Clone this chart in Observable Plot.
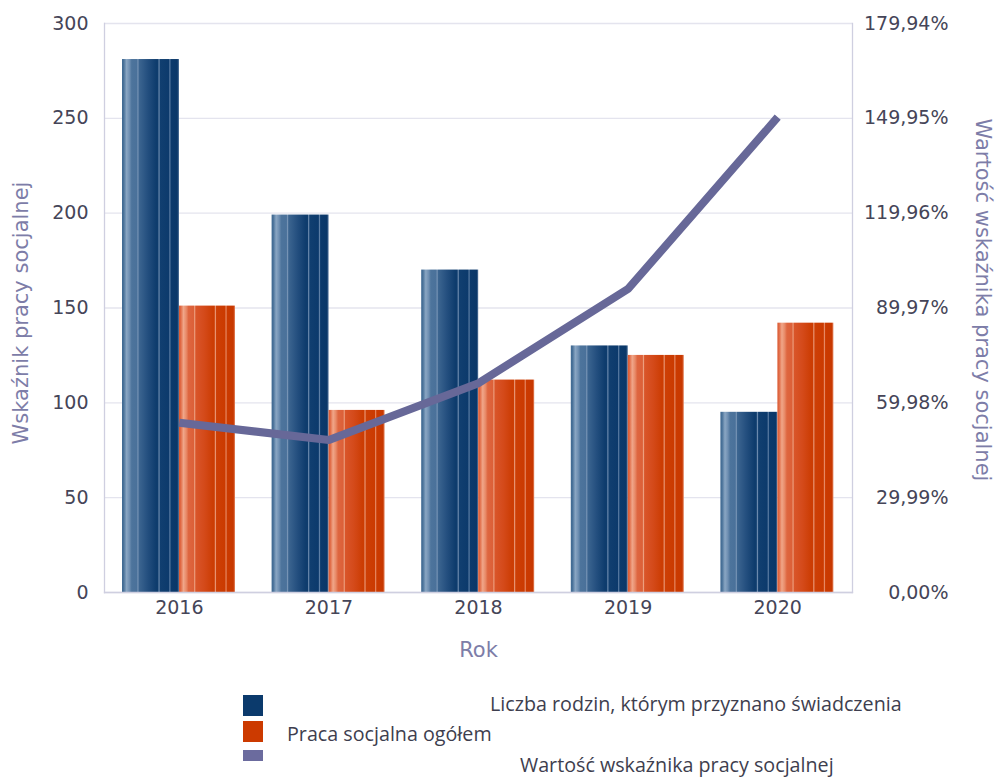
<!DOCTYPE html>
<html>
<head>
<meta charset="utf-8">
<script src="https://cdn.jsdelivr.net/npm/d3@7"></script>
<script src="https://cdn.jsdelivr.net/npm/@observablehq/plot@0.6"></script>
<style>
  html, body { margin: 0; padding: 0; background: #fff; }
  #wrap { position: relative; width: 996px; height: 777px; overflow: hidden; }
  #legend { position: absolute; left: 0; top: 680px; width: 996px; height: 97px; font-family: "Open Sans", sans-serif; color: #3e3e4e; }
  .sw { position: absolute; left: 243px; width: 20px; }
  .lt { position: absolute; white-space: nowrap; font-size: 19.7px; line-height: 20px; }
</style>
</head>
<body>
<div id="wrap">
  <div id="chart"></div>
  <div id="legend"></div>
</div>
<script>
// ---- data ----
const years = ["2016", "2017", "2018", "2019", "2020"];
const liczbaRodzin = [281, 199, 170, 130, 95];      // Liczba rodzin, którym przyznano świadczenia
const pracaSocjalna = [151, 96, 112, 125, 142];     // Praca socjalna ogółem
const wskaznik = [53.7, 48.2, 66.2, 96.0, 150.3];   // Wartość wskaźnika pracy socjalnej (%)
const leftTicks = [0, 50, 100, 150, 200, 250, 300];
const rightTickLabels = ["0,00%", "29,99%", "59,98%", "89,97%", "119,96%", "149,95%", "179,94%"];
const rightMax = 179.94;
const leftMax = 300;

const seriesNames = ["Liczba rodzin, którym przyznano świadczenia", "Praca socjalna ogółem", "Wartość wskaźnika pracy socjalnej"];

const blueData = years.map((y, i) => ({year: y, value: liczbaRodzin[i]}));
const orangeData = years.map((y, i) => ({year: y, value: pracaSocjalna[i]}));
const lineData = years.map((y, i) => ({year: y, pct: wskaznik[i], v: wskaznik[i] * leftMax / rightMax}));

const tickColor = "#454558";
const titleColor = "#7d7da8";
const font = "DejaVu Sans, sans-serif";

const chart = Plot.plot({
  width: 996,
  height: 680,
  marginLeft: 104,
  marginRight: 144,
  marginTop: 23,
  marginBottom: 88,
  style: {fontFamily: font, background: "#fff"},
  x: {domain: years, padding: 0, round: false},
  y: {domain: [0, leftMax]},
  marks: [
    Plot.gridY(leftTicks, {stroke: "#e4e4ee", strokeOpacity: 1, strokeWidth: 1.3}),
    Plot.barY(blueData, {x: "year", y: "value", fill: "url(#gBlue)", insetLeft: 18, insetRight: 74.6}),
    Plot.barY(orangeData, {x: "year", y: "value", fill: "url(#gOrange)", insetLeft: 75, insetRight: 18.6}),
    Plot.line(lineData, {x: "year", y: "v", stroke: "#676898", strokeWidth: 8, strokeLinejoin: "miter", strokeLinecap: "butt"}),
    Plot.axisX({tickSize: 0, tickPadding: 8, fontSize: 19, color: tickColor, label: null}),
    Plot.axisY(leftTicks, {anchor: "left", tickSize: 0, tickPadding: 16, fontSize: 19, color: tickColor, label: null}),
    Plot.axisY(leftTicks, {anchor: "right", tickSize: 0, tickPadding: 3, dx: 93, textAnchor: "end", fontSize: 19, color: tickColor, label: null,
      tickFormat: d => rightTickLabels[leftTicks.indexOf(d)]}),
    Plot.frame({anchor: "left", stroke: "#cfcfe0", strokeWidth: 1.3}),
    Plot.frame({anchor: "right", stroke: "#cfcfe0", strokeWidth: 1.3}),
    Plot.frame({anchor: "bottom", stroke: "#cfcfe0", strokeWidth: 1.3}),
    Plot.text(["Rok"], {frameAnchor: "bottom", textAnchor: "middle", dy: 64, fontSize: 21, fill: titleColor}),
    Plot.text(["Wskaźnik pracy socjalnej"], {frameAnchor: "left", textAnchor: "middle", dx: -83, dy: 5, rotate: -90, fontSize: 21, fill: titleColor}),
    Plot.text(["Wartość wskaźnika pracy socjalnej"], {frameAnchor: "right", textAnchor: "middle", dx: 130, dy: -8, rotate: 90, fontSize: 21, fill: titleColor})
  ]
});

// gradients for the striped bars
const ns = "http://www.w3.org/2000/svg";
const defs = document.createElementNS(ns, "defs");
function grad(id, stops) {
  const g = document.createElementNS(ns, "linearGradient");
  g.setAttribute("id", id);
  g.setAttribute("x1", "0"); g.setAttribute("x2", "1"); g.setAttribute("y1", "0"); g.setAttribute("y2", "0");
  for (const [o, c] of stops) {
    const s = document.createElementNS(ns, "stop");
    s.setAttribute("offset", o);
    s.setAttribute("stop-color", c);
    g.appendChild(s);
  }
  defs.appendChild(g);
}
grad("gBlue", [
  [0, "#3f6891"], [0.03, "#4a7299"], [0.08, "#8aa6c3"], [0.13, "#6f8fb2"], [0.17, "#4d749c"],
  [0.26, "#4a719a"], [0.28, "#7895b6"], [0.30, "#3c6590"], [0.45, "#244f7f"], [0.60, "#0e3c6d"],
  [0.63, "#0e3c6d"], [0.65, "#6f8db0"], [0.67, "#113f70"], [0.82, "#0c3a6c"], [0.84, "#5f80a6"],
  [0.86, "#0c3a6c"], [0.97, "#0a3768"], [1, "#5a7aa0"]
]);
grad("gOrange", [
  [0, "#dc5a32"], [0.03, "#e06a45"], [0.08, "#f0a689"], [0.13, "#e88a68"], [0.17, "#de6640"],
  [0.26, "#dc6038"], [0.28, "#eda080"], [0.30, "#d9552a"], [0.45, "#d44a1a"], [0.60, "#cc3d04"],
  [0.63, "#cc3c02"], [0.65, "#ea9a7a"], [0.67, "#cd3f06"], [0.82, "#cb3a00"], [0.84, "#e88c68"],
  [0.86, "#cb3a00"], [0.97, "#c83800"], [1, "#e58a66"]
]);
chart.insertBefore(defs, chart.firstChild);
document.getElementById("chart").appendChild(chart);

// legend (HTML, below the SVG)
const legend = document.getElementById("legend");
const items = [
  {color: "#0b3a6c", top: 15, h: 21, text: seriesNames[0], tx: 490, ty: 14},
  {color: "#cc3a00", top: 41, h: 21, text: seriesNames[1], tx: 287, ty: 44},
  {color: "#6b6b9e", top: 70, h: 11, text: seriesNames[2], tx: 520, ty: 75}
];
for (const it of items) {
  const sw = document.createElement("div");
  sw.className = "sw";
  sw.style.top = it.top + "px";
  sw.style.height = it.h + "px";
  sw.style.background = it.color;
  legend.appendChild(sw);
  const t = document.createElement("div");
  t.className = "lt";
  t.style.left = it.tx + "px";
  t.style.top = it.ty + "px";
  t.textContent = it.text;
  legend.appendChild(t);
}
</script>
</body>
</html>
